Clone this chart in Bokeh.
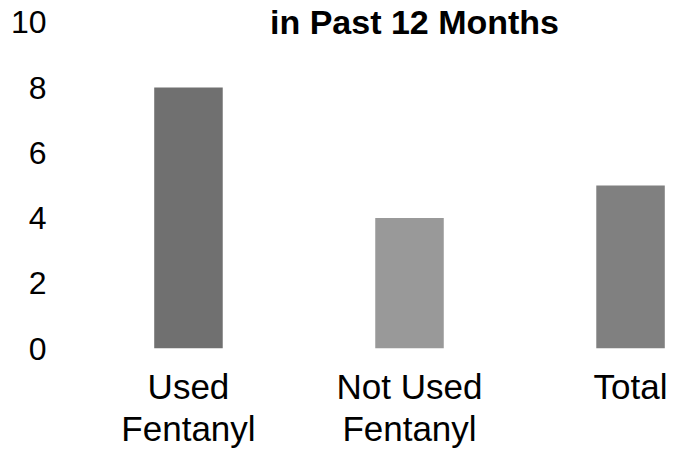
from bokeh.plotting import figure
from bokeh.models import Range1d, FixedTicker, Label
from bokeh.embed import file_html
from bokeh.resources import INLINE

categories = ["Used\nFentanyl", "Not Used\nFentanyl", "Total"]
values = [8, 4, 5]
colors = ["#707070", "#999999", "#808080"]
y_ticks = [0, 2, 4, 6, 8, 10]
title_text = "in Past 12 Months"

xs = list(range(len(categories)))

p = figure(width=678, height=451, output_backend="svg", toolbar_location=None,
           x_range=Range1d(-0.579, 2.217), y_range=Range1d(0, 10.669),
           min_border_left=60, min_border_right=0, min_border_top=0, min_border_bottom=100)
p.vbar(x=xs, top=values, width=0.31, fill_color=colors, line_color=None)

p.xgrid.visible = False
p.ygrid.visible = False
p.outline_line_color = None
p.background_fill_color = "white"

p.yaxis.ticker = FixedTicker(ticks=y_ticks)
p.yaxis.axis_line_color = None
p.yaxis.major_tick_line_color = None
p.yaxis.minor_tick_line_color = None
p.yaxis.major_tick_out = 0
p.yaxis.major_tick_in = 0
p.yaxis.major_label_standoff = 14
p.yaxis.major_label_text_font = "Liberation Sans"
p.yaxis.major_label_text_font_size = "32px"
p.yaxis.major_label_text_color = "black"

p.xaxis.ticker = FixedTicker(ticks=xs)
p.xaxis.major_label_overrides = {i: c for i, c in zip(xs, categories)}
p.xaxis.axis_line_color = None
p.xaxis.major_tick_line_color = None
p.xaxis.minor_tick_line_color = None
p.xaxis.major_tick_out = 0
p.xaxis.major_tick_in = 0
p.xaxis.major_label_standoff = 18
p.xaxis.major_label_text_font = "Liberation Sans"
p.xaxis.major_label_text_font_size = "35px"
p.xaxis.major_label_text_color = "black"
p.xaxis.major_label_text_line_height = 1.1

lbl = Label(x=414 - 60, y=10, x_units="screen", y_units="data", text=title_text,
            text_font="Liberation Sans", text_font_style="bold", text_font_size="34px",
            text_align="center", text_baseline="middle", text_color="black")
p.add_layout(lbl)

open("out.html", "w").write(file_html(p, INLINE))
